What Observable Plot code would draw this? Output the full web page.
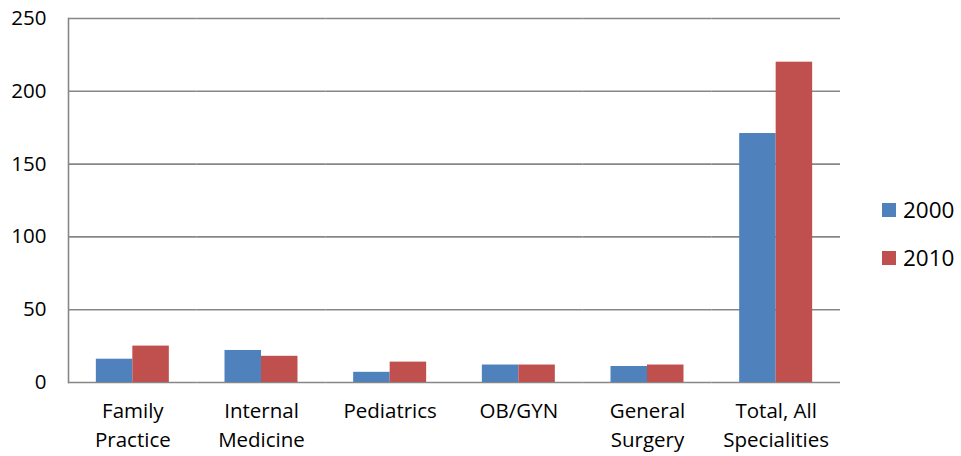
<!DOCTYPE html>
<html>
<head>
<meta charset="utf-8">
<script src="https://cdn.jsdelivr.net/npm/d3@7"></script>
<script src="https://cdn.jsdelivr.net/npm/@observablehq/plot@0.6"></script>
<style>
  html, body { margin: 0; padding: 0; background: #fff; }
  #wrap { position: relative; width: 961px; height: 456px; font-family: "Open Sans", sans-serif; }
  .legend { position: absolute; left: 882px; font-size: 22.5px; color: #000; display: flex; align-items: center; }
  .legend span.sw { display: inline-block; width: 14px; height: 14px; margin-right: 7px; }
</style>
</head>
<body>
<div id="wrap"></div>
<script>
const categories = ["Family\nPractice", "Internal\nMedicine", "Pediatrics", "OB/GYN", "General\nSurgery", "Total, All\nSpecialities"];
const years = ["2000", "2010"];
const values2000 = [16, 22, 7, 12, 11, 171];
const values2010 = [25, 18, 14, 12, 12, 220];
const colors = ["#4F81BD", "#C0504D"];
const yTicks = [0, 50, 100, 150, 200, 250];

const data = [];
categories.forEach((c, i) => {
  data.push({category: c, year: years[0], value: values2000[i]});
  data.push({category: c, year: years[1], value: values2010[i]});
});

const chart = Plot.plot({
  width: 961,
  height: 456,
  marginLeft: 68,
  marginRight: 121,
  marginTop: 18,
  marginBottom: 74,
  style: {fontFamily: "Open Sans, sans-serif", fontSize: "20.5px", color: "#000"},
  fx: {domain: categories, paddingInner: 0, paddingOuter: 0, round: false, label: null, axis: null},
  x: {domain: years, paddingInner: 0, paddingOuter: 0.763, round: false, axis: null},
  y: {domain: [0, 250], label: null, axis: null},
  color: {domain: years, range: colors},
  marks: [
    Plot.gridY(yTicks, {stroke: "#878787", strokeOpacity: 1, strokeWidth: 1.6}),
    Plot.frame({anchor: "left", facetAnchor: "left", stroke: "#878787", strokeWidth: 1.6}),
    Plot.barY(data, {fx: "category", x: "year", y: "value", fill: "year"}),
    Plot.axisY(yTicks, {tickSize: 0, tickPadding: 22, fontSize: 20.5, label: null}),
    Plot.axisFx({anchor: "bottom", tickSize: 0, tickPadding: 15, fontSize: 20.5, lineHeight: 1.4, label: null})
  ]
});

const wrap = document.getElementById("wrap");
wrap.appendChild(chart);
years.forEach((y, i) => {
  const d = document.createElement("div");
  d.className = "legend";
  d.style.top = (194 + i * 48) + "px";
  d.innerHTML = `<span class="sw" style="background:${colors[i]}"></span>${y}`;
  wrap.appendChild(d);
});
</script>
</body>
</html>
